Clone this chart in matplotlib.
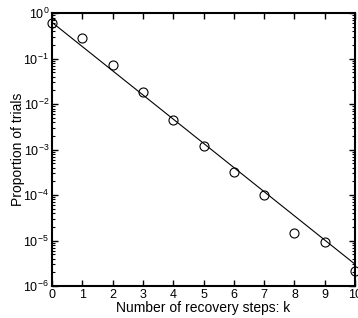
import matplotlib
matplotlib.use("Agg")
import matplotlib.pyplot as plt
from matplotlib.ticker import LogLocator, NullFormatter, FixedLocator

plt.rcParams['font.family'] = ['Liberation Sans', 'DejaVu Sans']
plt.rcParams['mathtext.fontset'] = 'custom'
plt.rcParams['mathtext.rm'] = 'Liberation Sans'
plt.rcParams['mathtext.it'] = 'Liberation Sans:italic'
plt.rcParams['mathtext.bf'] = 'Liberation Sans:bold'

k = [0, 1, 2, 3, 4, 5, 6, 7, 8, 9, 10]
proportion = [0.618, 0.29, 0.074, 0.0182, 0.00456, 0.0012, 3.17e-4, 1.0e-4, 1.43e-5, 9.3e-6, 2.15e-6]
fit_k = [0, 10]
fit_p = [0.63, 3.0e-6]

fig = plt.figure(figsize=(3.58, 3.18), dpi=100)
ax = fig.add_axes([0.145, 0.1006, 0.847, 0.858])
ax.plot(fit_k, fit_p, color='black', linewidth=0.8)
ax.plot(k, proportion, linestyle='none', marker='o', markersize=6.5,
        markerfacecolor='none', markeredgecolor='black', markeredgewidth=0.8,
        clip_on=False)
ax.set_yscale('log')
ax.set_xlim(0, 10)
ax.set_ylim(1e-6, 1)
ax.xaxis.set_major_locator(FixedLocator(range(0, 11)))
ax.yaxis.set_major_locator(LogLocator(base=10, numticks=10))
ax.yaxis.set_minor_locator(LogLocator(base=10, subs=range(2, 10), numticks=20))
ax.yaxis.set_minor_formatter(NullFormatter())
for s in ax.spines.values():
    s.set_linewidth(1.5)
ax.tick_params(which='both', direction='in', top=True, right=True, labelsize=9, pad=2)
ax.tick_params(which='major', length=4, width=1)
ax.tick_params(which='minor', length=2, width=0.8)
ax.set_xlabel('Number of recovery steps: k', fontsize=10, labelpad=0)
ax.set_ylabel('Proportion of trials', fontsize=10, labelpad=-1)
fig.savefig('out.png', dpi=100)
